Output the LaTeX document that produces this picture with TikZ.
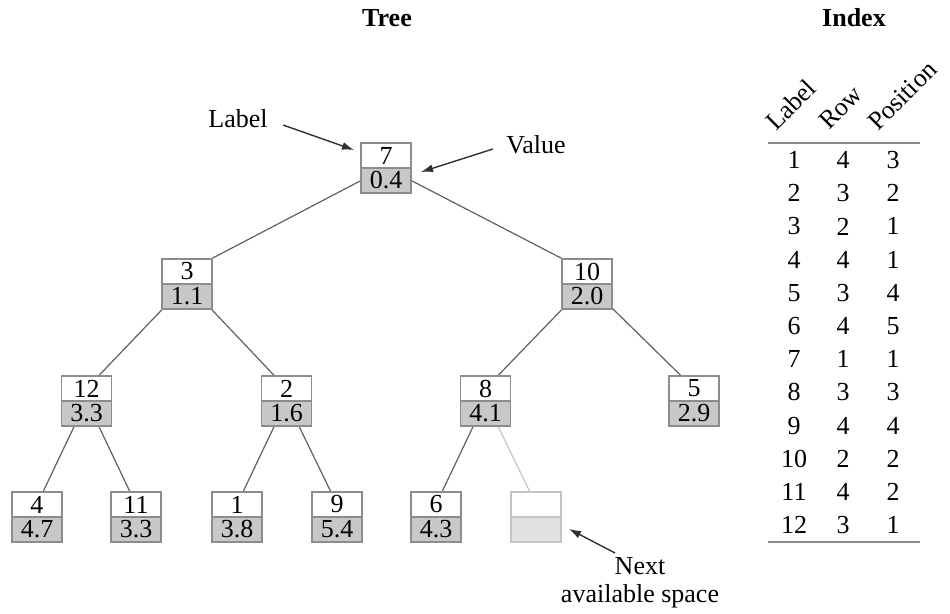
\documentclass[tikz,border=0pt]{standalone}
\usepackage{fontspec}
\setmainfont{Liberation Serif}
\usetikzlibrary{arrows.meta,backgrounds}
\definecolor{boxline}{HTML}{8C8C8C}
\definecolor{valfill}{HTML}{C8C8C8}
\definecolor{edgecol}{HTML}{606060}
\definecolor{emptyline}{HTML}{C4C4C4}
\definecolor{emptyfill}{HTML}{E2E2E2}
\definecolor{arrcol}{HTML}{303030}
\definecolor{rulecol}{HTML}{8A8A8A}
\newcommand\bigtext{\fontsize{26}{28}\selectfont}
\newcommand\treenode[5]{%
  \node[labbox] (#1L) at (#2,-#3-12.5) {#4};
  \node[valbox] (#1V) at (#2,-#3-37.5) {#5};}
\begin{document}
\begin{tikzpicture}[x=1pt,y=1pt,
  labbox/.style={draw=boxline, fill=white, minimum width=50, minimum height=25,
                 inner sep=0, line width=1.1, font=\bigtext},
  valbox/.style={labbox, fill=valfill},
  emptylab/.style={labbox, draw=emptyline},
  emptyval/.style={labbox, draw=emptyline, fill=emptyfill},
  treeedge/.style={draw=edgecol, line width=1.2},
  emptyedge/.style={draw=emptyline, line width=1.2},
  arr/.style={draw=arrcol, line width=1.4, -{Latex[length=12,width=8]}},
  txt/.style={font=\bigtext, inner sep=0},
  cell/.style={font=\bigtext, inner sep=0},
  rulestyle/.style={draw=rulecol, line width=1.6}]
\path[use as bounding box] (0,0) rectangle (950,-613);

% titles
\node[txt, font=\bigtext\bfseries] (ttree) at (387,-18) {Tree};
\node[txt, font=\bigtext\bfseries] (tindex) at (854,-18) {Index};

% tree nodes
\treenode{n7}{386}{143}{7}{0.4}
\treenode{n3}{187}{259}{3}{1.1}
\treenode{n10}{587}{259}{10}{2.0}
\treenode{n12}{86.5}{376}{12}{3.3}
\treenode{n2}{286.5}{376}{2}{1.6}
\treenode{n8}{485.5}{376}{8}{4.1}
\treenode{n5}{694}{376}{5}{2.9}
\treenode{n4}{37}{492}{4}{4.7}
\treenode{n11}{136}{492}{11}{3.3}
\treenode{n1}{237}{492}{1}{3.8}
\treenode{n9}{337}{492}{9}{5.4}
\treenode{n6}{436}{492}{6}{4.3}
\node[emptylab] (nEL) at (536,-504.5) {};
\node[emptyval] (nEV) at (536,-529.5) {};

% edges behind boxes
\begin{scope}[on background layer]
\draw[treeedge] (n7V.north) -- (n3L.center);
\draw[treeedge] (n7V.north) -- (n10L.center);
\draw[treeedge] (n3V.north) -- (n12L.center);
\draw[treeedge] (n3V.north) -- (n2L.center);
\draw[treeedge] (n10V.north) -- (n8L.center);
\draw[treeedge] (n10V.north) -- (n5L.center);
\draw[treeedge] (n12V.north) -- (n4L.center);
\draw[treeedge] (n12V.north) -- (n11L.center);
\draw[treeedge] (n2V.north) -- (n1L.center);
\draw[treeedge] (n2V.north) -- (n9L.center);
\draw[treeedge] (n8V.north) -- (n6L.center);
\draw[emptyedge] (n8V.north) -- (nEL.center);
\end{scope}

% annotations
\node[txt] (alabel) at (238,-119) {Label};
\node[txt] (avalue) at (536,-145) {Value};
\node[txt, align=center] (anext) at (640,-583) {Next\\available space};
\coordinate (labtail) at (283,-125);
\coordinate (labtip) at (354,-150);
\coordinate (valtail) at (493,-149);
\coordinate (valtip) at (421,-172);
\coordinate (nexttail) at (615,-553);
\coordinate (nexttip) at (569,-529);
\draw[arr] (labtail) -- (labtip);
\draw[arr] (valtail) -- (valtip);
\draw[arr] (nexttail) -- (nexttip);

% index table
\node[txt, rotate=45, anchor=base west] (hlabel) at (776,-132) {Label};
\node[txt, rotate=45, anchor=base west] (hrow) at (829,-131) {Row};
\node[txt, rotate=45, anchor=base west] (hpos) at (878,-132) {Position};
\coordinate (rtl) at (768,-143);
\coordinate (rtr) at (920,-143);
\coordinate (rbl) at (768,-542);
\coordinate (rbr) at (920,-542);
\draw[rulestyle] (rtl) -- (rtr);
\draw[rulestyle] (rbl) -- (rbr);
\foreach \a/\b/\c [count=\i from 0] in
  {1/4/3, 2/3/2, 3/2/1, 4/4/1, 5/3/4, 6/4/5, 7/1/1, 8/3/3, 9/4/4, 10/2/2, 11/4/2, 12/3/1}
{
  \node[cell] (ca\i) at (794,-160-\i*33.2) {\a};
  \node[cell] (cb\i) at (843,-160-\i*33.2) {\b};
  \node[cell] (cc\i) at (893,-160-\i*33.2) {\c};
}
\end{tikzpicture}
\end{document}
